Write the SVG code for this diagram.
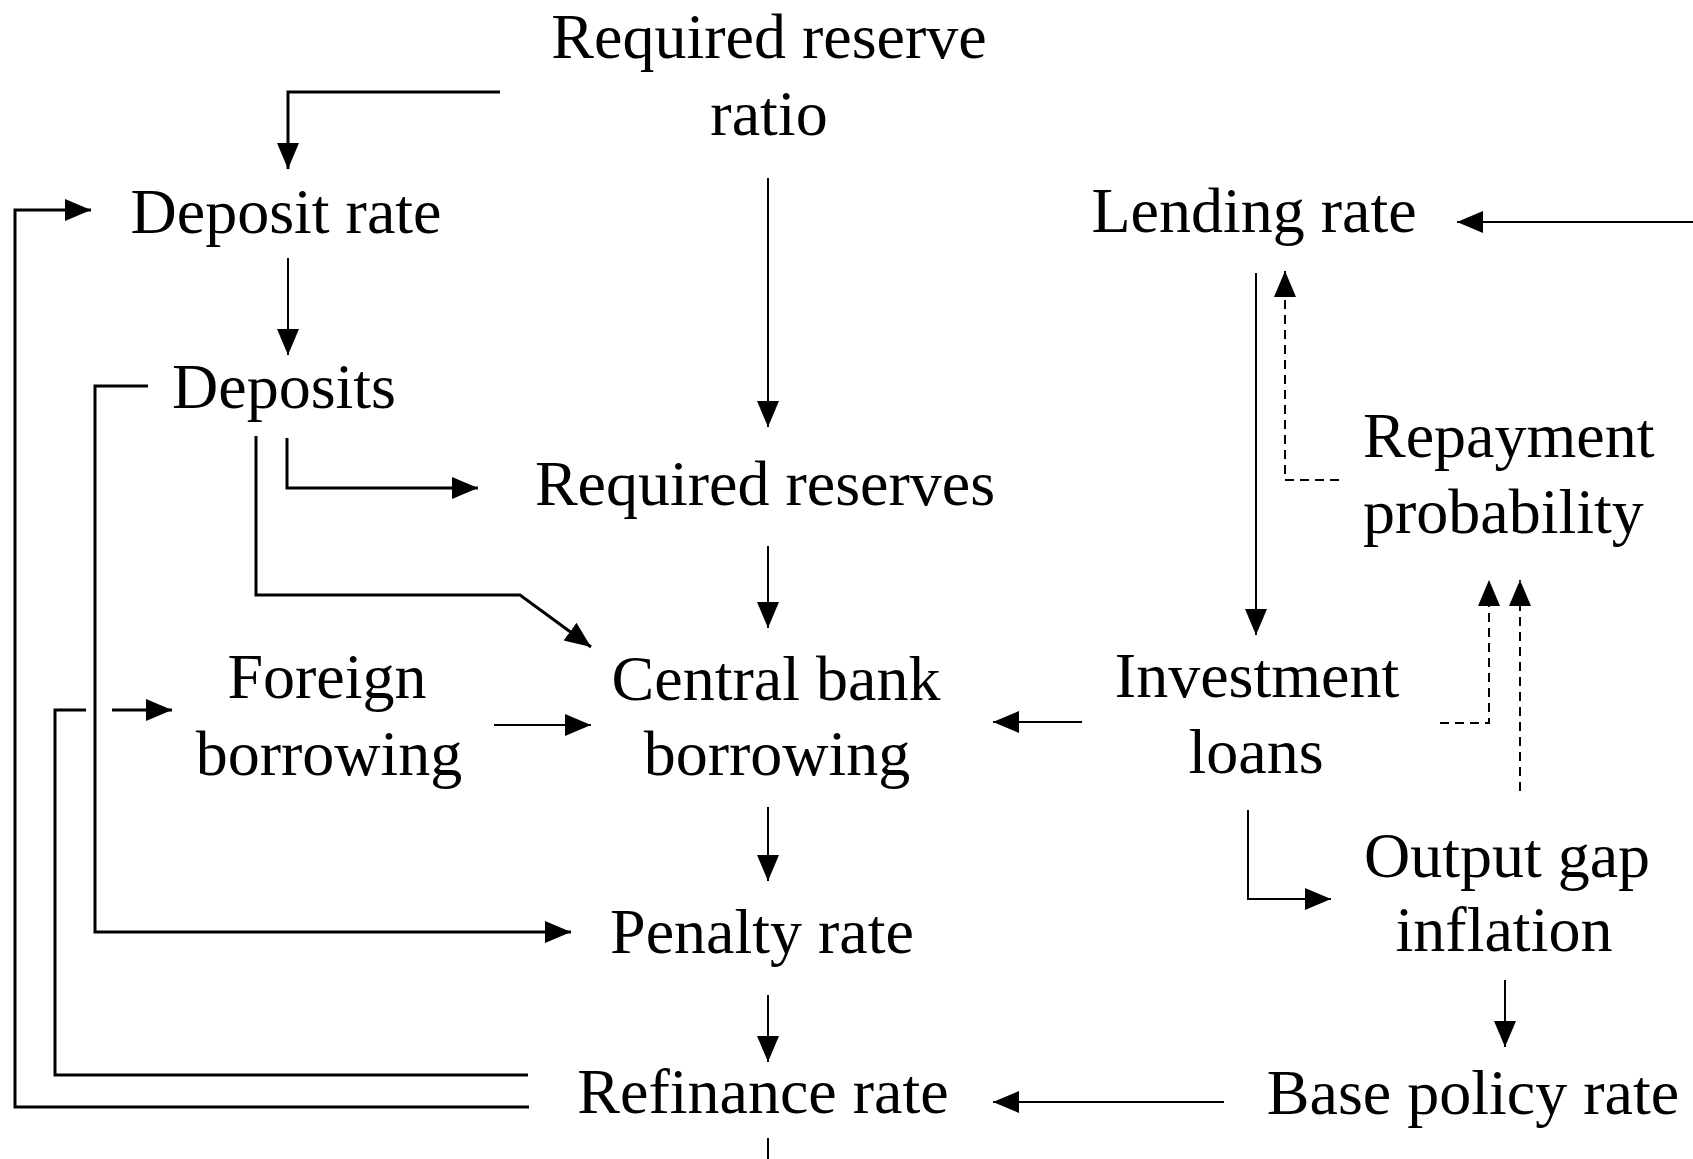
<svg xmlns="http://www.w3.org/2000/svg" width="1693" height="1159" viewBox="0 0 1693 1159">
<style>
text{font-family:"Liberation Serif","Times New Roman",serif;font-size:64px;fill:#000;text-anchor:middle}
text.l{text-anchor:start}
.c path{fill:none;stroke:#000;stroke-width:2}
.c path.thick{stroke-width:3}
.c path.d{stroke-dasharray:9 6}
</style>
<defs>
<marker id="a" markerUnits="userSpaceOnUse" markerWidth="28" markerHeight="24" refX="26" refY="11" orient="auto">
<path d="M0,0 L26,11 L0,22 z" fill="#000"/>
</marker>
</defs>
<rect width="1693" height="1159" fill="#fff"/>
<g id="rrr"><text x="769" y="58">Required reserve</text><text x="769" y="135">ratio</text></g>
<g id="deposit-rate"><text x="286" y="233">Deposit rate</text></g>
<g id="deposits"><text x="284" y="408">Deposits</text></g>
<g id="required-reserves"><text x="765" y="505">Required reserves</text></g>
<g id="lending-rate"><text x="1254" y="232">Lending rate</text></g>
<g id="repayment"><text class="l" x="1363" y="457">Repayment</text><text class="l" x="1363" y="533">probability</text></g>
<g id="foreign"><text x="327" y="698">Foreign</text><text x="329" y="775">borrowing</text></g>
<g id="cb"><text x="776" y="700">Central bank</text><text x="777" y="775">borrowing</text></g>
<g id="investment"><text x="1257" y="697">Investment</text><text x="1256" y="773">loans</text></g>
<g id="output"><text x="1507" y="877">Output gap</text><text x="1504" y="951">inflation</text></g>
<g id="penalty"><text x="762" y="953">Penalty rate</text></g>
<g id="refinance"><text x="763" y="1113">Refinance rate</text></g>
<g id="base"><text x="1473" y="1114">Base policy rate</text></g>
<g class="c" id="connectors">
<path class="thick" d="M500,92 H288 V169" marker-end="url(#a)"/>
<path d="M768,178 V427" marker-end="url(#a)"/>
<path d="M288,258 V355" marker-end="url(#a)"/>
<path class="thick" d="M529,1107 H15 V210 H91" marker-end="url(#a)"/>
<path class="thick" d="M148,386 H95 V932 H571" marker-end="url(#a)"/>
<path class="thick" d="M528,1075 H55 V710 H86 M112,710 H172" marker-end="url(#a)"/>
<path class="thick" d="M287,438 V488 H478" marker-end="url(#a)"/>
<path class="thick" d="M256,436 V595 H520 L591,647" marker-end="url(#a)"/>
<path d="M768,546 V628" marker-end="url(#a)"/>
<path d="M494,725 H591" marker-end="url(#a)"/>
<path d="M1082,722 H993" marker-end="url(#a)"/>
<path d="M768,807 V881" marker-end="url(#a)"/>
<path d="M768,995 V1062" marker-end="url(#a)"/>
<path d="M768,1138 V1159"/>
<path d="M1224,1102 H993" marker-end="url(#a)"/>
<path d="M1505,980 V1047" marker-end="url(#a)"/>
<path d="M1248,810 V899 H1331" marker-end="url(#a)"/>
<path d="M1256,273 V635" marker-end="url(#a)"/>
<path d="M1693,222 H1457" marker-end="url(#a)"/>
<path class="d" d="M1339,480 H1285 V271" marker-end="url(#a)"/>
<path class="d" d="M1440,723 H1489 V580" marker-end="url(#a)"/>
<path class="d" d="M1520,791 V580" marker-end="url(#a)"/>
</g>
</svg>
